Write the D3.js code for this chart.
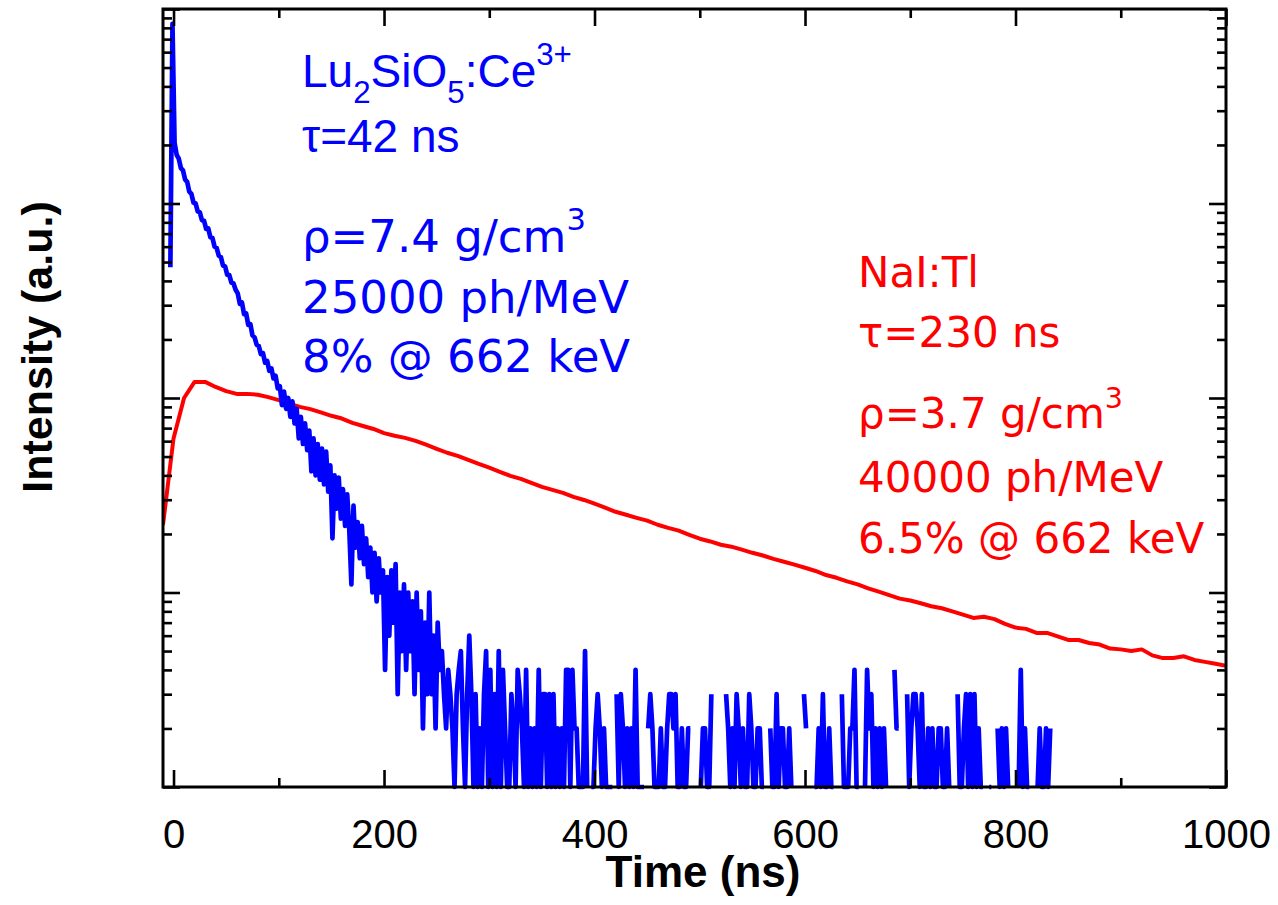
<!DOCTYPE html>
<html>
<head>
<meta charset="utf-8">
<script src="https://cdn.jsdelivr.net/npm/d3@7"></script>
<style>
  body { margin: 0; background: #fff; }
  svg { display: block; }
</style>
</head>
<body>
<svg id="chart" width="1278" height="905"></svg>
<script>
// Lu2SiO5:Ce (blue) decay histogram, counts per 2 ns channel, first channel at -3 ns
const lsoStart = -3;
const lsoStep = 2;
const lsoCounts = [
  470, 8400, 2050, 1780, 1700, 1520, 1480, 1330, 1290, 1150, 1120, 1010, 1000, 910, 900, 820, 815, 740, 745, 670,
  665, 600, 590, 540, 530, 480, 475, 430, 428, 392, 388, 360, 345, 305, 310, 270, 272, 238, 240, 210,
  205, 188, 185, 168, 170, 152, 155, 138, 142, 126, 130, 112,
  115, 92, 108, 88, 100, 80, 96, 74, 88, 62, 80, 58, 74, 54, 68, 42, 62, 40, 58, 38,
  55, 36, 53, 33, 45, 19, 40, 27, 39, 24, 34, 22, 32, 21, 11, 28, 17, 23, 15, 22,
  14, 19, 12, 17, 10, 16, 9, 15, 10, 13, 4, 12, 6, 13, 7, 14, 3, 10, 5, 11,
  4, 10, 5, 9, 3, 10, 4, 8, 2, 7, 3, 10, 3, 6, 2, 7,
  4, 5, 3, 2, 4, 3, 2, 1, 3, 4, 5, 2, 1, 3, 6, 3, 1, 3, 1, 2,
  1, 3, 5, 1, 4, 1, 3, 1, 5, 1, 4, 2, 1, 1, 3, 2, 1, 4, 3, 2,
  1, 4, 1, 2, 1, 2, 1, 4, 1, 3, 3, 1, 3, 1, 3, 1, 2, 1, 2, 1,
  4, 4, 1, 4, 2, 2, 1, 1, 1, 5, 1, 0, 1, 1, 2, 3, 2, 1, 2, 1,
  1, 1, 1, 0, 3, 1, 3, 2, 1, 2, 1, 2, 1, 4, 1, 1, 1, 1, 0, 2,
  3, 2, 1, 1, 1, 2, 1, 1, 2, 3, 3, 2, 3, 1, 1, 2, 1, 1, 2, 2,
  0, 2, 0, 0, 1, 2, 2, 1, 1, 3, 0, 0, 0, 0, 0, 0, 3, 2, 1, 2,
  1, 3, 2, 1, 2, 1, 1, 3, 2, 1, 1, 2, 2, 1, 1, 0, 0, 2, 1, 1,
  3, 1, 2, 2, 1, 1, 2, 1, 0, 0, 0, 0, 0, 3, 2, 0, 0, 0, 1, 1,
  2, 1, 3, 1, 1, 2, 1, 1, 0, 0, 0, 3, 1, 1, 1, 2, 2, 4, 1, 1,
  0, 0, 1, 4, 2, 3, 1, 2, 1, 2, 1, 2, 1, 0, 0, 0, 4, 2, 2, 0,
  0, 0, 3, 1, 2, 3, 3, 2, 1, 3, 1, 1, 2, 1, 2, 1, 1, 2, 2, 1,
  1, 2, 1, 0, 0, 0, 3, 1, 1, 2, 3, 1, 3, 1, 3, 1, 2, 1, 1, 0,
  0, 1, 1, 0, 0, 2, 1, 2, 1, 2, 1, 0, 0, 0, 0, 1, 4, 1, 2, 1,
  1, 0, 0, 0, 1, 2, 1, 1, 2, 1, 2
];

// NaI:Tl (red) decay, sampled every 10 ns
const naiTimes = [
  -10, 0, 10, 20, 30, 40, 50, 60, 70, 80, 90, 100, 110, 120, 130, 140, 150, 160, 170, 180,
  190, 200, 210, 220, 230, 240, 250, 260, 270, 280, 290, 300, 310, 320, 330, 340, 350, 360, 370, 380,
  390, 400, 410, 420, 430, 440, 450, 460, 470, 480, 490, 500, 510, 520, 530, 540, 550, 560, 570, 580,
  590, 600, 610, 620, 630, 640, 650, 660, 670, 680, 690, 700, 710, 720, 730, 740, 750, 760, 770, 780,
  790, 800, 810, 820, 830, 840, 850, 860, 870, 880, 890, 900, 910, 920, 930, 940, 950, 960, 970, 980,
  990, 1000
];
const naiValues = [
  22.3, 62, 100, 121, 121, 114, 108.5, 105, 105, 104, 101, 97.5, 93.5, 90, 87.7, 84.3, 81, 78.4, 74.5, 71.8,
  69.3, 66, 64, 62.4, 60.2, 57.5, 54.8, 52.3, 50.4, 48.1, 45.9, 43.8, 41.7, 39.8, 38.4, 36.6, 34.9, 33.7, 32.5, 31,
  29.9, 28.6, 27.3, 26, 25.1, 24.2, 23.4, 22.3, 21.5, 20.8, 19.8, 18.9, 18.3, 17.6, 17.2, 16.6, 16, 15.5, 14.9, 14.4,
  13.9, 13.4, 12.9, 12.3, 11.9, 11.4, 11.0, 10.5, 10.1, 9.7, 9.3, 9.1, 8.8, 8.5, 8.3, 8.0, 7.7, 7.4, 7.5, 7.3,
  6.9, 6.6, 6.5, 6.2, 6.2, 5.95, 5.7, 5.7, 5.5, 5.4, 5.15, 5.1, 5.0, 5.1, 4.75, 4.6, 4.6, 4.7, 4.5, 4.4,
  4.3, 4.2
];

const xMajorTicks = [0, 200, 400, 600, 800, 1000];
const xMinorTicks = [100, 300, 500, 700, 900];
const yDomain = [1, 10000];

// text parts: [string, kind] with kind 0 normal, 1 subscript, 2 superscript
const blueLabels = [
  [["Lu", 0], ["2", 1], ["SiO", 0], ["5", 1], [":Ce", 0], ["3+", 2]],
  [["τ=42 ns", 0]],
  [["ρ=7.4 g/cm", 0], ["3", 2]],
  [["25000 ph/MeV", 0]],
  [["8% @ 662 keV", 0]]
];
const redLabels = [
  [["NaI:Tl", 0]],
  [["τ=230 ns", 0]],
  [["ρ=3.7 g/cm", 0], ["3", 2]],
  [["40000 ph/MeV", 0]],
  [["6.5% @ 662 keV", 0]]
];

const svg = d3.select("#chart");
const plotLeft = 163, plotRight = 1226, plotTop = 9, plotBottom = 787;
const arial = "Liberation Sans, Arial, sans-serif";
const verdana = "DejaVu Sans, Verdana, sans-serif";

const x = d3.scaleLinear().domain([-10, 1000]).range([plotLeft, plotRight]);
const y = d3.scaleLog().domain(yDomain).range([plotBottom, plotTop]);

const lso = lsoCounts.map((c, i) => ({ t: lsoStart + i * lsoStep, v: c }));
const nai = naiTimes.map((t, i) => ({ t: t, v: naiValues[i] }));

svg.append("clipPath").attr("id", "plotclip")
  .append("rect").attr("x", plotLeft).attr("y", plotTop - 4)
  .attr("width", plotRight - plotLeft).attr("height", plotBottom - plotTop + 8);

const line = d3.line()
  .defined(d => d.v > 0)
  .x(d => x(d.t))
  .y(d => y(d.v));

const plot = svg.append("g").attr("clip-path", "url(#plotclip)");

plot.append("path").datum(nai)
  .attr("fill", "none").attr("stroke", "#ff0000").attr("stroke-width", 4)
  .attr("stroke-linejoin", "round").attr("d", line);

plot.append("path").datum(lso)
  .attr("fill", "none").attr("stroke", "#0000ff").attr("stroke-width", 4.7)
  .attr("stroke-linejoin", "round").attr("d", line);

// axes with inward ticks on all four sides
function styleAxis(g) {
  g.select(".domain").remove();
  g.selectAll(".tick line").attr("stroke", "#000").attr("stroke-width", 2.6);
}

const majorLen = 17, minorLen = 9;
const yMajor = [1, 10, 100, 1000, 10000];
const yMinor = y.ticks().filter(v => !yMajor.includes(v));

svg.append("g").attr("transform", `translate(0,${plotBottom})`)
  .call(d3.axisBottom(x).tickValues(xMajorTicks).tickSizeInner(-majorLen).tickSizeOuter(0)
    .tickPadding(majorLen + 16).tickFormat(d3.format("d")))
  .call(styleAxis)
  .call(g => g.selectAll("text").attr("font-family", arial).attr("font-size", 40).attr("fill", "#000"));
svg.append("g").attr("transform", `translate(0,${plotBottom})`)
  .call(d3.axisBottom(x).tickValues(xMinorTicks).tickSizeInner(-minorLen).tickSizeOuter(0).tickFormat(""))
  .call(styleAxis);
svg.append("g").attr("transform", `translate(0,${plotTop})`)
  .call(d3.axisTop(x).tickValues(xMajorTicks).tickSizeInner(-majorLen).tickSizeOuter(0).tickFormat(""))
  .call(styleAxis);
svg.append("g").attr("transform", `translate(0,${plotTop})`)
  .call(d3.axisTop(x).tickValues(xMinorTicks).tickSizeInner(-minorLen).tickSizeOuter(0).tickFormat(""))
  .call(styleAxis);

svg.append("g").attr("transform", `translate(${plotLeft},0)`)
  .call(d3.axisLeft(y).tickValues(yMajor).tickSizeInner(-majorLen).tickSizeOuter(0).tickFormat(""))
  .call(styleAxis);
svg.append("g").attr("transform", `translate(${plotLeft},0)`)
  .call(d3.axisLeft(y).tickValues(yMinor).tickSizeInner(-minorLen).tickSizeOuter(0).tickFormat(""))
  .call(styleAxis);
svg.append("g").attr("transform", `translate(${plotRight},0)`)
  .call(d3.axisRight(y).tickValues(yMajor).tickSizeInner(-majorLen).tickSizeOuter(0).tickFormat(""))
  .call(styleAxis);
svg.append("g").attr("transform", `translate(${plotRight},0)`)
  .call(d3.axisRight(y).tickValues(yMinor).tickSizeInner(-minorLen).tickSizeOuter(0).tickFormat(""))
  .call(styleAxis);

// frame
svg.append("rect")
  .attr("x", plotLeft).attr("y", plotTop)
  .attr("width", plotRight - plotLeft).attr("height", plotBottom - plotTop)
  .attr("fill", "none").attr("stroke", "#000").attr("stroke-width", 3);

// axis titles
svg.append("text")
  .attr("x", 703).attr("y", 887)
  .attr("text-anchor", "middle")
  .attr("font-family", arial)
  .attr("font-weight", "bold").attr("font-size", 44)
  .text("Time (ns)");

svg.append("text")
  .attr("transform", "translate(52,347) rotate(-90)")
  .attr("text-anchor", "middle")
  .attr("font-family", arial)
  .attr("font-weight", "bold").attr("font-size", 43)
  .text("Intensity (a.u.)");

function drawBlock(lines, xPos, baselines, color, families, sizes) {
  lines.forEach((parts, i) => {
    const size = sizes[i];
    const shift = { 0: 0, 1: size * 0.34, 2: -size * 0.48 };
    const t = svg.append("text")
      .attr("x", xPos).attr("y", baselines[i])
      .attr("font-family", families[i]).attr("font-size", size).attr("fill", color);
    let prevKind = 0;
    parts.forEach(([str, kind]) => {
      const span = t.append("tspan").text(str).attr("dy", shift[kind] - shift[prevKind]);
      if (kind !== 0) span.attr("font-size", size * 0.68);
      prevKind = kind;
    });
  });
}

drawBlock(blueLabels, 302, [87, 152, 252, 313, 372], "#0000ff",
  [arial, arial, verdana, verdana, verdana], [46, 46, 45, 45, 45]);
drawBlock(redLabels, 858, [287, 347, 428, 492, 553], "#ff0000",
  [verdana, verdana, verdana, verdana, verdana], [42, 42, 42, 42, 42]);
</script>
</body>
</html>
